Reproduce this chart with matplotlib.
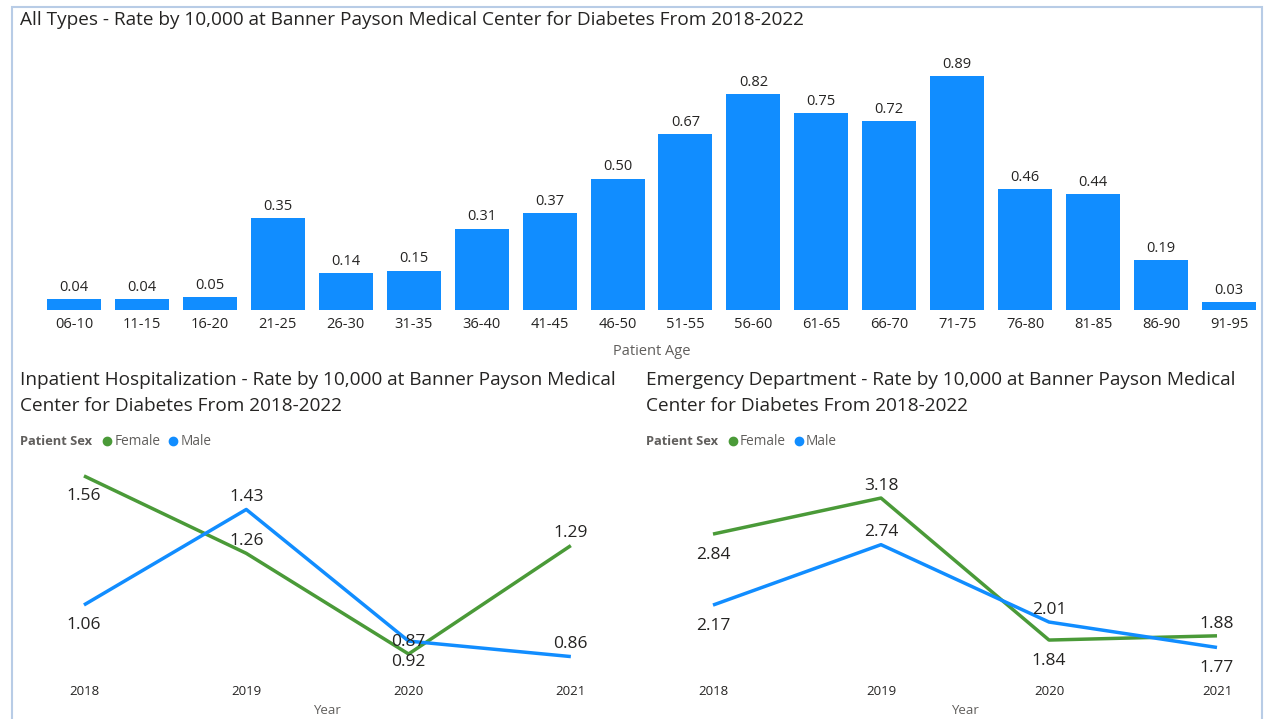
import matplotlib
matplotlib.use("Agg")
import matplotlib.pyplot as plt
from matplotlib.patches import Rectangle
from matplotlib.lines import Line2D

plt.rcParams['font.family'] = ['Open Sans', 'DejaVu Sans']

# ---- data ----
age_groups = ["06-10", "11-15", "16-20", "21-25", "26-30", "31-35", "36-40", "41-45", "46-50",
              "51-55", "56-60", "61-65", "66-70", "71-75", "76-80", "81-85", "86-90", "91-95"]
all_types_rate = [0.04, 0.04, 0.05, 0.35, 0.14, 0.15, 0.31, 0.37, 0.50,
                  0.67, 0.82, 0.75, 0.72, 0.89, 0.46, 0.44, 0.19, 0.03]

years = ["2018", "2019", "2020", "2021"]
inpatient_female = [1.56, 1.26, 0.87, 1.29]
inpatient_male = [1.06, 1.43, 0.92, 0.86]
ed_female = [2.84, 3.18, 1.84, 1.88]
ed_male = [2.17, 2.74, 2.01, 1.77]

# label placement (True = above the point)
inpatient_female_above = [False, True, True, True]
inpatient_male_above = [False, True, False, True]
ed_female_above = [False, True, False, True]
ed_male_above = [False, True, True, False]

BLUE = "#118DFF"
GREEN = "#4A9A38"
DARK = "#252423"
GRAY = "#605E5C"

W, H = 1264, 719
fig = plt.figure(figsize=(W / 100, H / 100), dpi=100)
fig.patch.set_facecolor("white")


def ax_px(left, top, right, bottom):
    return fig.add_axes([left / W, 1 - bottom / H, (right - left) / W, (bottom - top) / H])


# outer border
fig.add_artist(Rectangle((12 / W, -0.01), (1262 - 12) / W, 1 - 7 / H + 0.01,
                         transform=fig.transFigure, fill=False, edgecolor="#B8CCE6", lw=1.5))

# ---- bar chart ----
ax = ax_px(40, 55, 1263, 310)
x = list(range(len(age_groups)))
ax.bar(x, all_types_rate, width=0.795, color=BLUE)
ax.set_xlim(-0.5, len(age_groups) - 0.5)
ax.set_ylim(0, 0.97)
for xi, v in zip(x, all_types_rate):
    ax.annotate(f"{v:.2f}", (xi, v), xytext=(0, 3), textcoords="offset points",
                ha="center", va="bottom", fontsize=10.5, color=DARK)
ax.set_xticks(x)
ax.set_xticklabels(age_groups, fontsize=10.5, color=DARK)
ax.tick_params(axis="x", length=0, pad=5)
ax.set_yticks([])
for s in ax.spines.values():
    s.set_visible(False)
ax.set_xlabel("Patient Age", fontsize=10.5, color=GRAY, labelpad=9)
fig.text(20 / W, 1 - 20 / H, "All Types - Rate by 10,000 at Banner Payson Medical Center for Diabetes From 2018-2022",
         fontsize=13.7, color=DARK, ha="left", va="center")


def line_panel(x0, title_lines, female, male, f_above, m_above, box, xlim, ylim):
    axl = ax_px(*box)
    xs = list(range(len(years)))
    axl.plot(xs, female, color=GREEN, lw=2.5, solid_capstyle="butt")
    axl.plot(xs, male, color=BLUE, lw=2.5, solid_capstyle="butt")
    for xs_, vals, ab in ((xs, female, f_above), (xs, male, m_above)):
        for xi, v, a in zip(xs_, vals, ab):
            axl.annotate(f"{v:.2f}", (xi, v), xytext=(0, 3 if a else -9), textcoords="offset points",
                         ha="center", va="bottom" if a else "top", fontsize=12.5, color=DARK)
    axl.set_xlim(*xlim)
    axl.set_ylim(*ylim)
    axl.set_xticks(xs)
    axl.set_xticklabels(years, fontsize=9.5, color=DARK)
    axl.tick_params(axis="x", length=0, pad=5)
    axl.set_yticks([])
    for s in axl.spines.values():
        s.set_visible(False)
    axl.set_xlabel("Year", fontsize=9.5, color=GRAY, labelpad=4)
    fig.text(x0 / W, 1 - 380 / H, title_lines[0], fontsize=13.7, color=DARK, ha="left", va="center")
    fig.text(x0 / W, 1 - 406 / H, title_lines[1], fontsize=13.7, color=DARK, ha="left", va="center")
    # legend
    t = fig.text(x0 / W, 1 - 441 / H, "Patient Sex", fontsize=9.3, color=GRAY, fontweight="bold",
                 ha="left", va="center")
    fig.canvas.draw()
    bb = t.get_window_extent()
    cx = bb.x1 + 15
    for name, col in (("Female", GREEN), ("Male", BLUE)):
        fig.add_artist(Line2D([cx / W], [1 - 441 / H], marker="o", markersize=6, color=col,
                              transform=fig.transFigure, linestyle="none"))
        tt = fig.text((cx + 7) / W, 1 - 441 / H, name, fontsize=9.8, color=GRAY, ha="left", va="center")
        fig.canvas.draw()
        cx = tt.get_window_extent().x1 + 13


line_panel(20, ["Inpatient Hospitalization - Rate by 10,000 at Banner Payson Medical",
                "Center for Diabetes From 2018-2022"],
           inpatient_female, inpatient_male, inpatient_female_above, inpatient_male_above,
           (51.5, 455, 603.3, 678), (-0.2, 3.2), (0.777, 1.641))

line_panel(646, ["Emergency Department - Rate by 10,000 at Banner Payson Medical",
                 "Center for Diabetes From 2018-2022"],
           ed_female, ed_male, ed_female_above, ed_male_above,
           (679.4, 455, 1250.6, 678), (-0.2, 3.2), (1.482, 3.586))

fig.savefig("out.png", dpi=100, facecolor="white")
